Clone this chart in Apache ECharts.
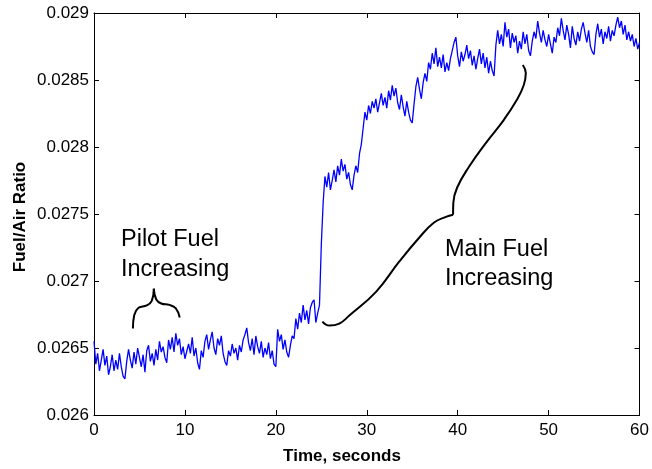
<!DOCTYPE html>
<html>
<head>
<meta charset="utf-8">
<script src="https://cdn.jsdelivr.net/npm/echarts@6/dist/echarts.min.js"></script>
<style>
html,body{margin:0;padding:0;background:#fff;}
#chart{width:652px;height:469px;}
</style>
</head>
<body>
<div id="chart"></div>
<script>
// Time (s) vs Fuel/Air ratio
const pilotSegment = [
[0,0.02655],[0.2,0.02638],[0.4,0.02646],[0.6,0.02633],[0.8,0.02641],[1,0.02649],[1.2,0.02637],[1.4,0.02644],[1.6,0.02630],[1.8,0.02636],
[2,0.02645],[2.2,0.02633],[2.4,0.02641],[2.6,0.02634],[2.8,0.02646],[3,0.02636],[3.2,0.02629],[3.4,0.02627],[3.6,0.02640],[3.8,0.02649],
[4,0.02641],[4.2,0.02635],[4.4,0.02647],[4.6,0.02638],[4.8,0.02650],[5,0.02643],[5.2,0.02636],[5.4,0.02645],[5.6,0.02632],[5.8,0.02648],
[6,0.02652],[6.2,0.02640],[6.4,0.02646],[6.6,0.02637],[6.8,0.02649],[7,0.02641],[7.2,0.02655],[7.4,0.02647],[7.6,0.02651],[7.8,0.02643],
[8,0.02639],[8.2,0.02656],[8.4,0.02649],[8.6,0.02658],[8.8,0.02647],[9,0.02661],[9.2,0.02652],[9.4,0.02657],[9.6,0.02645],[9.8,0.02651]
];
const baselineSegment = [
[10,0.02642],[10.2,0.02641],[10.4,0.02653],[10.6,0.02646],[10.8,0.02658],[11,0.02644],[11.2,0.02650],[11.4,0.02639],[11.6,0.02634],[11.8,0.02648],
[12,0.02643],[12.2,0.02655],[12.4,0.02660],[12.6,0.02649],[12.8,0.02656],[13,0.02662],[13.2,0.02650],[13.4,0.02645],[13.6,0.02657],[13.8,0.02652],
[14,0.02659],[14.2,0.02646],[14.4,0.02640],[14.6,0.02637],[14.8,0.02648],[15,0.02644],[15.2,0.02653],[15.4,0.02646],[15.6,0.02650],[15.8,0.02641],
[16,0.02652],[16.2,0.02647],[16.4,0.02656],[16.6,0.02660],[16.8,0.02665],[17,0.02654],[17.2,0.02648],[17.4,0.02657],[17.6,0.02645],[17.8,0.02659],
[18,0.02651],[18.2,0.02646],[18.4,0.02655],[18.6,0.02643],[18.8,0.02650],[19,0.02645],[19.2,0.02654],[19.4,0.02642],[19.6,0.02648],[19.8,0.02638],
[20,0.02636],[20.2,0.02664],[20.4,0.02655],[20.6,0.02660],[20.8,0.02649],[21,0.02656],[21.2,0.02647],[21.4,0.02643],[21.6,0.02652],[21.8,0.02659],
[22,0.02657],[22.2,0.02672],[22.4,0.02664],[22.6,0.02676],[22.8,0.02669],[23,0.02682],[23.2,0.02671],[23.4,0.02678],[23.6,0.02668],[23.8,0.02680],
[24,0.02684],[24.2,0.02686],[24.4,0.02669],[24.6,0.02676],[24.8,0.02682]
];
const mainSegment = [
[25,0.02727],[25.2,0.02758],[25.4,0.02778],[25.6,0.02770],[25.8,0.02781],[26,0.02768],[26.2,0.02775],[26.4,0.02783],[26.6,0.02774],[26.8,0.02786],
[27,0.02779],[27.2,0.02791],[27.4,0.02782],[27.6,0.02787],[27.8,0.02776],[28,0.02781],[28.2,0.02772],[28.4,0.02768],[28.6,0.02779],[28.8,0.02786],
[29,0.02781],[29.2,0.02795],[29.4,0.02802],[29.6,0.02814],[29.8,0.02826],[30,0.02820],[30.2,0.02831],[30.4,0.02825],[30.6,0.02834],[30.8,0.02829],
[31,0.02836],[31.2,0.02826],[31.4,0.02833],[31.6,0.02840],[31.8,0.02831],[32,0.02837],[32.2,0.02829],[32.4,0.02842],[32.6,0.02835],[32.8,0.02846],
[33,0.02838],[33.2,0.02844],[33.4,0.02833],[33.6,0.02828],[33.8,0.02839],[34,0.02830],[34.2,0.02823],[34.4,0.02834],[34.6,0.02826],[34.8,0.02820],
[35,0.02818],[35.2,0.02832],[35.4,0.02845],[35.6,0.02852],[35.8,0.02843],[36,0.02836],[36.2,0.02848],[36.4,0.02855],[36.6,0.02849],[36.8,0.02863],
[37,0.02858],[37.2,0.02870],[37.4,0.02862],[37.6,0.02874],[37.8,0.02860],[38,0.02867],[38.2,0.02859],[38.4,0.02869],[38.6,0.02856],[38.8,0.02863],
[39,0.02857],[39.2,0.02866],[39.4,0.02872],[39.6,0.02878],[39.8,0.02882],[40,0.02868],[40.2,0.02860],[40.4,0.02871],[40.6,0.02864],[40.8,0.02869],
[41,0.02876],[41.2,0.02866],[41.4,0.02872],[41.6,0.02861],[41.8,0.02868],[42,0.02858],[42.2,0.02866],[42.4,0.02873],[42.6,0.02862],[42.8,0.02870],
[43,0.02859],[43.2,0.02867],[43.4,0.02855],[43.6,0.02864],[43.8,0.02857],[44,0.02853],[44.2,0.02876],[44.4,0.02887],[44.6,0.02877],[44.8,0.02884]
];
const plateauSegment = [
[45,0.02875],[45.2,0.02893],[45.4,0.02882],[45.6,0.02888],[45.8,0.02874],[46,0.02885],[46.2,0.02878],[46.4,0.02883],[46.6,0.02870],[46.8,0.02879],
[47,0.02873],[47.2,0.02886],[47.4,0.02877],[47.6,0.02884],[47.8,0.02872],[48,0.02868],[48.2,0.02879],[48.4,0.02886],[48.6,0.02881],[48.8,0.02894],
[49,0.02885],[49.2,0.02878],[49.4,0.02887],[49.6,0.02880],[49.8,0.02875],[50,0.02884],[50.2,0.02877],[50.4,0.02870],[50.6,0.02882],[50.8,0.02878],
[51,0.02889],[51.2,0.02883],[51.4,0.02896],[51.6,0.02887],[51.8,0.02880],[52,0.02891],[52.2,0.02884],[52.4,0.02874],[52.6,0.02890],[52.8,0.02881],
[53,0.02876],[53.2,0.02886],[53.4,0.02879],[53.6,0.02888],[53.8,0.02893],[54,0.02885],[54.2,0.02878],[54.4,0.02887],[54.6,0.02875],[54.8,0.02871],
[55,0.02869],[55.2,0.02884],[55.4,0.02892],[55.6,0.02882],[55.8,0.02888],[56,0.02877],[56.2,0.02886],[56.4,0.02881],[56.6,0.02890],[56.8,0.02879],
[57,0.02887],[57.2,0.02883],[57.4,0.02891],[57.6,0.02897],[57.8,0.02889],[58,0.02894],[58.2,0.02884],[58.4,0.02891],[58.6,0.02880],[58.8,0.02886],
[59,0.02879],[59.2,0.02884],[59.4,0.02875],[59.6,0.02881],[59.8,0.02873],[60,0.02878]
];

// Annotation braces (data coordinates)
const pilotBraceLeft = [[4.28,0.026645],[4.42,0.026745],[4.9,0.026800],[5.8,0.026818],[6.35,0.026852],[6.58,0.026943]];
const pilotBraceRight = [[6.58,0.026943],[6.85,0.026862],[7.45,0.026830],[8.3,0.026822],[9.0,0.026795],[9.43,0.026727]];
const mainBraceLower = [[25.12,0.026697],[25.88,0.026667],[26.98,0.026682],[28.08,0.026742],[31.04,0.026921],[33.56,0.027144],[35.76,0.027323],[37.4,0.027436],[38.7,0.027478],[39.49,0.027494]];
const mainBraceUpper = [[39.49,0.027494],[39.52,0.027584],[39.93,0.027696],[41.24,0.027852],[43.11,0.028031],[45.08,0.028203],[46.51,0.028352],[47.27,0.028463],[47.49,0.028553],[47.16,0.028612]];

const xTicks = {min: 0, max: 60, interval: 10};
const yTicks = {min: 0.026, max: 0.029, interval: 0.0005};

const FONT = '"Liberation Sans", Arial, Helvetica, sans-serif';
const trace = pilotSegment.concat(baselineSegment, mainSegment, plateauSegment);

const chart = echarts.init(document.getElementById('chart'), null, {renderer: 'canvas'});
const axisCommon = {
  axisLine: {show: true, onZero: false, lineStyle: {color: '#000', width: 1}},
  axisTick: {show: true, inside: true, length: 5, lineStyle: {color: '#000', width: 1}},
  splitLine: {show: false}
};
function braceSeries(data) {
  return {type: 'line', data: data, smooth: 0.45, symbol: 'none', silent: true,
    lineStyle: {color: '#000', width: 2}, z: 3, animation: false};
}
chart.setOption({
  animation: false,
  backgroundColor: '#fff',
  grid: {left: 94, right: 11, top: 13, bottom: 54, containLabel: false},
  xAxis: [
    Object.assign({type: 'value', position: 'bottom', min: xTicks.min, max: xTicks.max, interval: xTicks.interval,
      axisLabel: {show: true, color: '#000', fontSize: 17, fontFamily: FONT, margin: 7}}, axisCommon),
    Object.assign({type: 'value', position: 'top', min: xTicks.min, max: xTicks.max, interval: xTicks.interval,
      axisLabel: {show: false}}, axisCommon)
  ],
  yAxis: [
    Object.assign({type: 'value', position: 'left', min: yTicks.min, max: yTicks.max, interval: yTicks.interval,
      axisLabel: {show: true, color: '#000', fontSize: 17, fontFamily: FONT, margin: 5,
        formatter: v => String(+(+v).toFixed(4))}}, axisCommon),
    Object.assign({type: 'value', position: 'right', min: yTicks.min, max: yTicks.max, interval: yTicks.interval,
      axisLabel: {show: false}}, axisCommon)
  ],
  series: [
    {type: 'line', data: trace, symbol: 'none', silent: true, lineStyle: {color: '#0000ff', width: 1.3}, z: 2},
    braceSeries(pilotBraceLeft),
    braceSeries(pilotBraceRight),
    braceSeries(mainBraceLower),
    braceSeries(mainBraceUpper)
  ],
  graphic: [
    {type: 'text', x: 121, y: 240, style: {text: 'Pilot Fuel', fontSize: 23.5, fontFamily: FONT, fill: '#000', verticalAlign: 'middle', align: 'left'}},
    {type: 'text', x: 121, y: 270, style: {text: 'Increasing', fontSize: 23.5, fontFamily: FONT, fill: '#000', verticalAlign: 'middle', align: 'left'}},
    {type: 'text', x: 445, y: 250, style: {text: 'Main Fuel', fontSize: 23.5, fontFamily: FONT, fill: '#000', verticalAlign: 'middle', align: 'left'}},
    {type: 'text', x: 445, y: 279, style: {text: 'Increasing', fontSize: 23.5, fontFamily: FONT, fill: '#000', verticalAlign: 'middle', align: 'left'}},
    {type: 'text', x: 342, y: 456, style: {text: 'Time, seconds', fontSize: 17, fontWeight: 'bold', fontFamily: FONT, fill: '#000', verticalAlign: 'middle', align: 'center'}},
    {type: 'text', x: 20, y: 217, rotation: Math.PI / 2, style: {text: 'Fuel/Air Ratio', fontSize: 17, fontWeight: 'bold', fontFamily: FONT, fill: '#000', verticalAlign: 'middle', align: 'center'}}
  ]
});
</script>
</body>
</html>
